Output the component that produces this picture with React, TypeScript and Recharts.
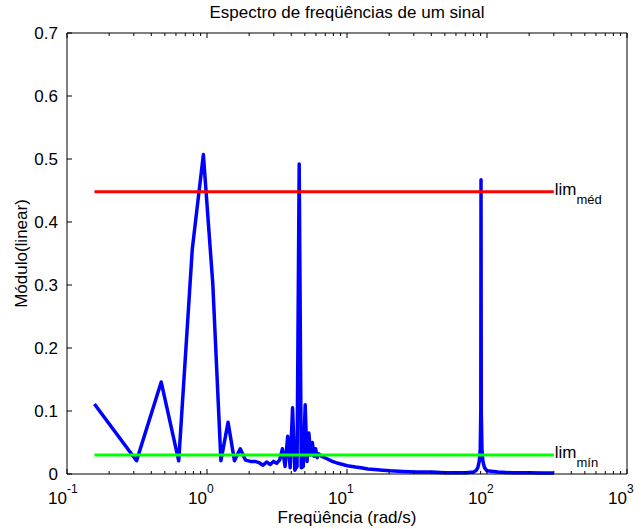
import { LineChart, Line, XAxis, YAxis, ReferenceDot } from "recharts";

// FFT bins (rad/s) and magnitude
const freqs = [
  0.157, 0.314, 0.471, 0.628, 0.785, 0.942, 1.1, 1.257, 1.414, 1.571, 1.728, 1.885,
  2.042, 2.199, 2.356, 2.513, 2.67, 2.827, 2.985, 3.142, 3.299, 3.456, 3.613, 3.77,
  3.927, 4.084, 4.241, 4.398, 4.555, 4.712, 4.869, 5.027, 5.184, 5.341, 5.498, 5.655,
  5.812, 5.969, 6.126, 6.283, 6.597, 7.069, 7.854, 8.639, 10.05, 11.5, 12.57, 14.1,
  15.71, 18.0, 20.4, 25.0, 31.4, 40.0, 50.3, 60.0, 70.7, 80.0, 84.0, 86.0, 88.0, 89.5,
  90.3, 90.63, 91.0, 92.0, 93.5, 96.0, 100.0, 120.0, 150.0, 200.0, 250.0, 300.0,
];
const mags = [
  0.111, 0.021, 0.146, 0.021, 0.357, 0.507, 0.302, 0.021, 0.082, 0.021, 0.04, 0.022,
  0.02, 0.02, 0.018, 0.014, 0.019, 0.015, 0.02, 0.017, 0.022, 0.04, 0.012, 0.06,
  0.01, 0.105, 0.006, 0.012, 0.492, 0.01, 0.012, 0.11, 0.02, 0.065, 0.03, 0.05,
  0.028, 0.04, 0.026, 0.032, 0.028, 0.025, 0.02, 0.017, 0.013, 0.011, 0.01, 0.008,
  0.007, 0.006, 0.005, 0.004, 0.003, 0.003, 0.002, 0.002, 0.002, 0.003, 0.006, 0.01, 0.02, 0.04,
  0.1, 0.467, 0.1, 0.04, 0.02, 0.01, 0.005, 0.003, 0.002, 0.002, 0.0015, 0.0015,
];

const limMed = 0.448;
const limMin = 0.03;
const limRange = [0.157, 300];

const yTicks = [0, 0.1, 0.2, 0.3, 0.4, 0.5, 0.6, 0.7];
const decades = [0.1, 1, 10, 100, 1000];
const exponents = ["-1", "0", "1", "2", "3"];
const minorMult = [2, 3, 4, 5, 6, 7, 8, 9];

const xTicks: number[] = [];
decades.forEach((d, i) => {
  xTicks.push(d);
  if (i < decades.length - 1) minorMult.forEach((m) => xTicks.push(+(d * m).toPrecision(3)));
});

const spectrum = freqs.map((f, i) => ({ f, m: mags[i] }));
const medData = limRange.map((f) => ({ f, m: limMed }));
const minData = limRange.map((f) => ({ f, m: limMin }));

const FONT = "'Liberation Sans', Arial, Helvetica, sans-serif";
const W = 641;
const H = 529;
const LEFT = 67;
const RIGHT = 627;
const TOP = 33;
const BOTTOM = 474;

const BottomTick = (props: any) => {
  const { x, y, payload } = props;
  const i = decades.indexOf(payload.value);
  return (
    <g>
      <line x1={x} x2={x} y1={y} y2={y - (i >= 0 ? 5 : 3)} stroke="#000" />
      {i >= 0 && (
        <>
          <text x={x} y={y + 30} textAnchor="end" fontSize={17} fontFamily={FONT} fill="#000">
            10
          </text>
          <text x={x} y={y + 19} textAnchor="start" fontSize={12} fontFamily={FONT} fill="#000">
            {exponents[i]}
          </text>
        </>
      )}
    </g>
  );
};

const TopTick = (props: any) => {
  const { x, y, payload } = props;
  const major = decades.indexOf(payload.value) >= 0;
  return <line x1={x} x2={x} y1={y} y2={y + (major ? 5 : 3)} stroke="#000" />;
};

const LeftTick = (props: any) => {
  const { x, y, payload } = props;
  return (
    <g>
      <line x1={x} x2={x + 5} y1={y} y2={y} stroke="#000" />
      <text x={x - 9} y={y} dy="0.36em" textAnchor="end" fontSize={17} fontFamily={FONT} fill="#000">
        {payload.value}
      </text>
    </g>
  );
};

const RightTick = (props: any) => {
  const { x, y } = props;
  return <line x1={x} x2={x - 5} y1={y} y2={y} stroke="#000" />;
};

const limLabel = (sub: string) => (props: any) => (
  <text x={props.cx + 1} y={props.cy + 3} fontSize={17} fontFamily={FONT} fill="#000">
    lim
    <tspan fontSize={13} dy={9}>
      {sub}
    </tspan>
  </text>
);

export default function App() {
  return (
    <div style={{ position: "absolute", left: 0, top: 0, width: W, height: H, background: "#fff" }}>
      <LineChart
        width={W}
        height={H}
        data={spectrum}
        margin={{ top: TOP - 10, right: W - RIGHT - 10, bottom: H - BOTTOM - 20, left: LEFT - 40 }}
      >
        <XAxis
          dataKey="f"
          type="number"
          scale="log"
          domain={[0.1, 1000]}
          allowDataOverflow
          ticks={xTicks}
          interval={0}
          height={20}
          tickSize={0}
          tickMargin={0}
          tick={BottomTick}
          axisLine={{ stroke: "#000" }}
        />
        <XAxis
          xAxisId="top"
          orientation="top"
          dataKey="f"
          type="number"
          scale="log"
          domain={[0.1, 1000]}
          allowDataOverflow
          ticks={xTicks}
          interval={0}
          height={10}
          tickSize={0}
          tickMargin={0}
          tick={TopTick}
          axisLine={{ stroke: "#000" }}
        />
        <YAxis
          type="number"
          domain={[0, 0.7]}
          ticks={yTicks}
          interval={0}
          width={40}
          tickSize={0}
          tickMargin={0}
          tick={LeftTick}
          axisLine={{ stroke: "#000" }}
        />
        <YAxis
          yAxisId="right"
          orientation="right"
          type="number"
          domain={[0, 0.7]}
          ticks={yTicks}
          interval={0}
          width={10}
          tickSize={0}
          tickMargin={0}
          tick={RightTick}
          axisLine={{ stroke: "#000" }}
        />
        <Line
          dataKey="m"
          type="linear"
          stroke="#0000ff"
          strokeWidth={3.5}
          strokeLinejoin="round"
          dot={false}
          isAnimationActive={false}
        />
        <Line
          data={medData}
          dataKey="m"
          type="linear"
          stroke="#ff0000"
          strokeWidth={3}
          dot={false}
          isAnimationActive={false}
        />
        <Line
          data={minData}
          dataKey="m"
          type="linear"
          stroke="#00ff00"
          strokeWidth={3}
          dot={false}
          isAnimationActive={false}
        />
        <ReferenceDot x={limRange[1]} y={limMed} r={0} shape={limLabel("méd")} ifOverflow="visible" />
        <ReferenceDot x={limRange[1]} y={limMin} r={0} shape={limLabel("mín")} ifOverflow="visible" />
        <text x={(LEFT + RIGHT) / 2} y={18} textAnchor="middle" fontSize={17} fontFamily={FONT} fill="#000">
          Espectro de freqüências de um sinal
        </text>
        <text x={(LEFT + RIGHT) / 2} y={523} textAnchor="middle" fontSize={17} fontFamily={FONT} fill="#000">
          Freqüência (rad/s)
        </text>
        <text
          x={27}
          y={(TOP + BOTTOM) / 2}
          transform={`rotate(-90, 27, ${(TOP + BOTTOM) / 2})`}
          textAnchor="middle"
          fontSize={17}
          fontFamily={FONT}
          fill="#000"
        >
          Módulo(linear)
        </text>
      </LineChart>
    </div>
  );
}
